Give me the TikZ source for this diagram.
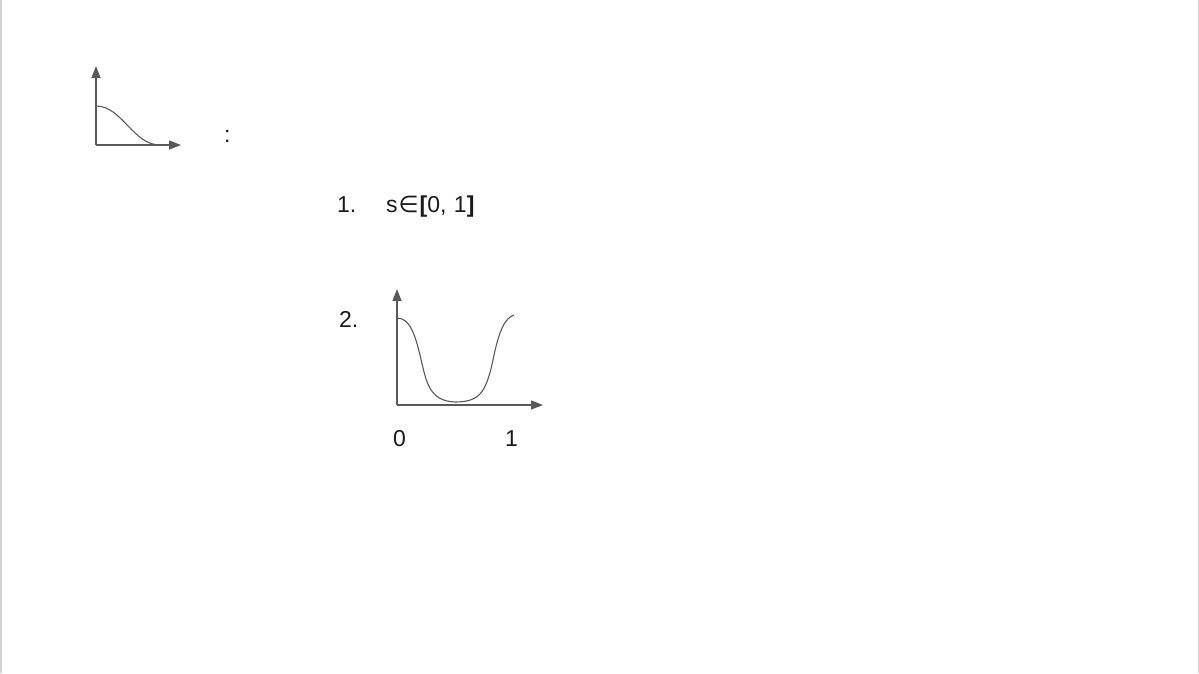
\documentclass[tikz,border=0pt]{standalone}
\usepackage{fontspec}
\setmainfont{Liberation Sans}
\newfontfamily\symfont{DejaVu Sans}
\usetikzlibrary{arrows.meta}
\definecolor{axisgray}{HTML}{595959}
\definecolor{edgegray}{HTML}{D4D4D4}
\definecolor{txt}{HTML}{1A1A1A}
\tikzset{
  axis/.style={draw=axisgray, line width=1.4pt, -{Triangle[length=12pt,width=9pt]}},
  curve/.style={draw=axisgray, line width=1.1pt},
  lbl/.style={inner sep=0pt, anchor=base west, text=txt, font=\fontsize{23}{25}\selectfont}
}
\begin{document}
\begin{tikzpicture}[x=1pt,y=-1pt]
\useasboundingbox (0,0) rectangle (1199,673);
\fill[white] (0,0) rectangle (1199,673);
\draw[edgegray, line width=1.5pt] (0.75,0) -- (0.75,673);
\draw[edgegray, line width=1.5pt] (1198.25,0) -- (1198.25,673);
% small graph
\coordinate (o1) at (96,145);
\coordinate (y1) at (96,66);
\coordinate (x1) at (181,145);
\draw[axis] (o1) -- (y1);
\draw[axis] (o1) -- (x1);
\draw[curve] (96,106) .. controls (122,106) and (133,145) .. (160,145);
\node[lbl] (colon) at (224,142) {:};
% item 1
\node[lbl] (n1) at (337,212) {1.};
\node[lbl] (s1) at (386,212) {s\hspace{1pt}{\symfont ∈}\hspace{1pt}\textbf{[}0,\hspace{1pt} 1\textbf{]}};
% item 2
\node[lbl] (n2) at (339,327) {2.};
\coordinate (o2) at (397,405);
\coordinate (y2) at (397,289);
\coordinate (x2) at (543,405);
\draw[axis] (o2) -- (y2);
\draw[axis] (o2) -- (x2);
\draw[curve] (397,318) .. controls (410,318) and (415,335) .. (420,355)
             .. controls (426,380) and (428,401) .. (455,402)
             .. controls (480,402) and (486,392) .. (493,360)
             .. controls (499,330) and (505,318) .. (514,315);
\node[lbl] (z0) at (393,446) {0};
\node[lbl] (z1) at (505,446) {1};
\end{tikzpicture}
\end{document}
